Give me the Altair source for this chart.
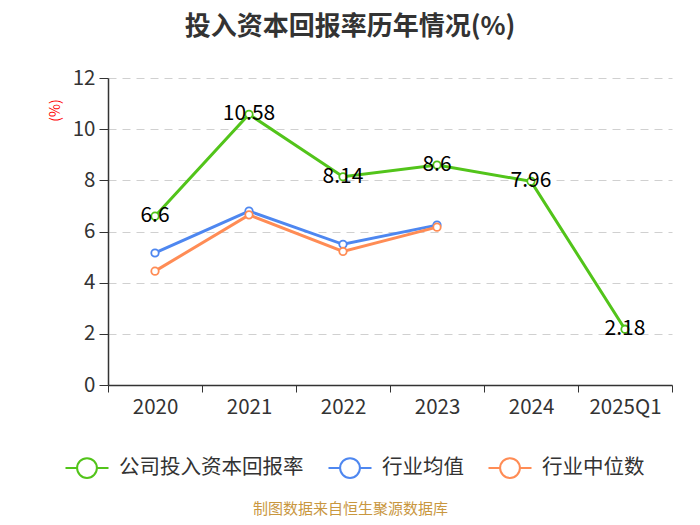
import altair as alt
import pandas as pd

periods = ["2020", "2021", "2022", "2023", "2024", "2025Q1"]
series_names = ["公司投入资本回报率", "行业均值", "行业中位数"]
company = [6.6, 10.58, 8.14, 8.6, 7.96, 2.18]
industry_avg = [5.16, 6.8, 5.5, 6.25]
industry_median = [4.45, 6.65, 5.22, 6.17]
colors = ["#52C41A", "#4E87F0", "#FF8C55"]

rows = []
for p, v in zip(periods, company):
    rows.append({"period": p, "series": series_names[0], "value": v, "label": f"{v:g}"})
for p, v in zip(periods, industry_avg):
    rows.append({"period": p, "series": series_names[1], "value": v, "label": ""})
for p, v in zip(periods, industry_median):
    rows.append({"period": p, "series": series_names[2], "value": v, "label": ""})
df = pd.DataFrame(rows)

FONT = "Noto Sans CJK SC"
sym = "M-1,0 L-0.46,0 M0.46,0 L1,0 M0.46,0 A0.46,0.46 0 1,1 -0.46,0 A0.46,0.46 0 1,1 0.46,0 Z"

x_enc = alt.X(
    "period:N",
    sort=periods,
    bandPosition=0.5,
    scale=alt.Scale(type="band", paddingInner=0, paddingOuter=0, domain=periods),
    axis=alt.Axis(
        title="制图数据来自恒生聚源数据库",
        titleColor="#C9973F",
        titleFontSize=15,
        titleFontWeight="normal",
        titleFont=FONT,
        titleX=242,
        titleY=123,
        titleAlign="center",
        titleBaseline="middle",
        labelAngle=0,
        labelFontSize=20.5,
        labelColor="#333333",
        labelFont=FONT,
        labelPadding=5,
        tickBand="extent",
        tickSize=7,
        tickColor="#333333",
        domainColor="#333333",
        domainWidth=1.5,
        grid=False,
    ),
)
y_enc = alt.Y(
    "value:Q",
    scale=alt.Scale(domain=[0, 12], nice=False),
    axis=alt.Axis(
        values=[0, 2, 4, 6, 8, 10, 12],
        title="(%)",
        titleColor="#FF0000",
        titleFontSize=14,
        titleFontWeight="normal",
        titleFont=FONT,
        titleAngle=-90,
        titleX=-53,
        titleY=32,
        titleAlign="center",
        titleBaseline="middle",
        labelFontSize=20.5,
        labelColor="#333333",
        labelFont=FONT,
        labelPadding=4,
        tickSize=9,
        tickColor="#333333",
        domainColor="#333333",
        domainWidth=1.5,
        grid=True,
        gridColor="#D0D0D0",
        gridDash=[8, 6],
        gridWidth=1,
    ),
)
color_enc = alt.Color(
    "series:N",
    sort=series_names,
    scale=alt.Scale(domain=series_names, range=colors),
    legend=alt.Legend(
        title=None,
        orient="none",
        direction="horizontal",
        legendX=-44,
        legendY=367,
        symbolType=sym,
        symbolSize=1850,
        symbolStrokeWidth=2,
        symbolFillColor="#FFFFFF",
        labelFontSize=20.5,
        labelFont=FONT,
        labelColor="#333333",
        labelOffset=9,
        labelLimit=400,
        columnPadding=20,
        padding=0,
    ),
)

base = alt.Chart(df).encode(x=x_enc, y=y_enc, color=color_enc)

lines = base.mark_line(strokeWidth=3)
points = base.mark_point(filled=False, fill="white", fillOpacity=1, size=55, strokeWidth=1.8, opacity=1)
labels = (
    alt.Chart(df[df["series"] == series_names[0]])
    .mark_text(fontSize=21, font=FONT, color="#000000", baseline="middle", align="center")
    .encode(x=x_enc, y=y_enc, text="label:N")
)

chart = (
    alt.layer(lines, points, labels)
    .properties(
        width=564,
        height=307,
        autosize=alt.AutoSizeParams(type="none"),
        padding={"left": 100, "top": 70, "right": 20, "bottom": 132},
        title=alt.TitleParams(
            text="投入资本回报率历年情况(%)",
            font=FONT,
            fontSize=26,
            fontWeight="bold",
            color="#333333",
            anchor="middle",
            dx=-40,
            offset=28,
            limit=640,
        ),
    )
    .configure_view(stroke=None)
)

chart.save("out.html", embed_options={"renderer": "svg", "actions": False})
